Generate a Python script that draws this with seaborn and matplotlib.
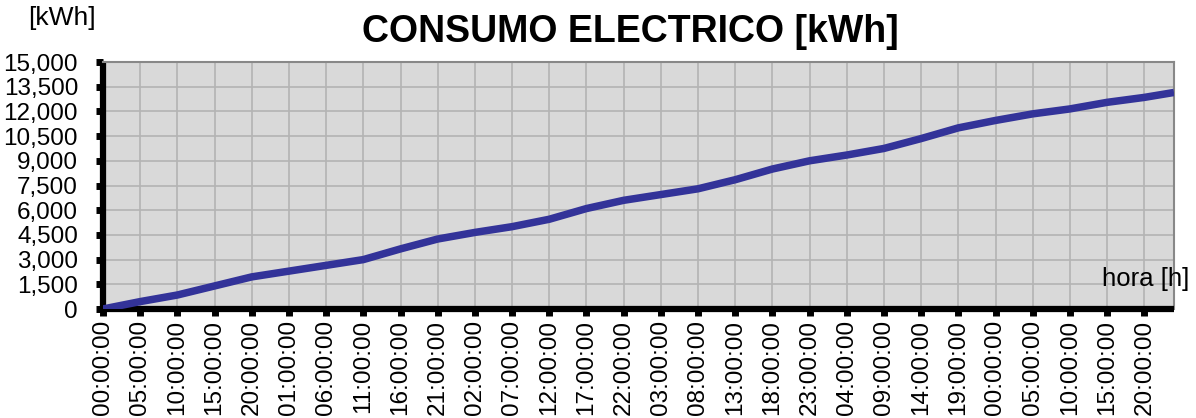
import matplotlib
matplotlib.use("Agg")
import matplotlib.pyplot as plt
import seaborn as sns
import pandas as pd
from matplotlib.ticker import FuncFormatter

# hours since start and cumulative energy
hours = [0, 5, 10, 15, 20, 25, 30, 35, 40, 45, 50, 55, 60, 65, 70, 75, 80, 85,
         90, 95, 100, 105, 110, 115, 120, 125, 130, 135, 140, 144]
kwh = [0, 450, 850, 1400, 1950, 2300, 2650, 3000, 3650, 4250, 4650, 5000,
       5450, 6100, 6600, 6950, 7300, 7850, 8500, 9000, 9350, 9750, 10350,
       11000, 11450, 11850, 12150, 12550, 12850, 13150]

tick_hours = list(range(0, 141, 5))
tick_labels = ['00:00:00', '05:00:00', '10:00:00', '15:00:00', '20:00:00',
               '01:00:00', '06:00:00', '11:00:00', '16:00:00', '21:00:00',
               '02:00:00', '07:00:00', '12:00:00', '17:00:00', '22:00:00',
               '03:00:00', '08:00:00', '13:00:00', '18:00:00', '23:00:00',
               '04:00:00', '09:00:00', '14:00:00', '19:00:00', '00:00:00',
               '05:00:00', '10:00:00', '15:00:00', '20:00:00']
y_ticks = list(range(0, 15001, 1500))

df = pd.DataFrame({'hora': hours, 'kwh': kwh})

sns.set_style("white")
plt.rcParams['font.family'] = ['Liberation Sans', 'DejaVu Sans']
plt.rcParams['text.color'] = 'black'
plt.rcParams['xtick.color'] = 'black'
plt.rcParams['ytick.color'] = 'black'

fig = plt.figure(figsize=(11.96, 4.18), dpi=100)
ax = fig.add_axes([103/1196, 1 - 309/418, (1174-103)/1196, (309-62)/418])
ax.set_facecolor('#d9d9d9')

sns.lineplot(data=df, x='hora', y='kwh', ax=ax, color='#333399', linewidth=5.4,
             solid_capstyle='butt', zorder=3)

ax.set_xlim(0, 144)
ax.set_ylim(0, 15000)
ax.set_xticks(tick_hours)
ax.set_xticklabels(tick_labels, rotation=90, fontsize=17.5)
ax.set_yticks(y_ticks)
ax.yaxis.set_major_formatter(FuncFormatter(lambda v, p: f'{int(v):,}'))
ax.tick_params(axis='y', left=True, labelsize=17.5, length=5, width=5,
               pad=13, color='black', labelcolor='black')
ax.tick_params(axis='x', bottom=True, length=5, width=5, pad=3,
               color='black', labelcolor='black')
ax.set_xlabel('')
ax.set_ylabel('')

ax.grid(True, color='#b3b3b3', linewidth=1.2, linestyle='-')
ax.set_axisbelow(True)

for s in ['left', 'bottom']:
    ax.spines[s].set_color('black')
    ax.spines[s].set_linewidth(4.5)
    ax.spines[s].set_capstyle('butt')
for s in ['top', 'right']:
    ax.spines[s].set_color('#888888')
    ax.spines[s].set_linewidth(1.5)

fig.text(630/1196, 1 - 32/418, 'CONSUMO ELECTRICO [kWh]', ha='center', va='center',
         fontsize=27, fontweight='bold', color='black')
fig.text(62/1196, 1 - 18/418, '[kWh]', ha='center', va='center', fontsize=19,
         color='black')
fig.text(1189/1196, 1 - 279/418, 'hora [h]', ha='right', va='center', fontsize=18.5,
         color='black')

fig.savefig('out.png', dpi=100)
